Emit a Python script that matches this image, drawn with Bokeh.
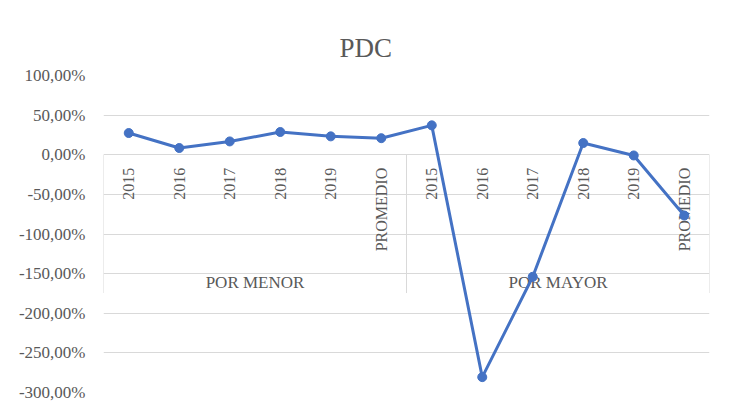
from bokeh.plotting import figure
from bokeh.models import (ColumnDataSource, Range1d, FixedTicker, CustomJSTickFormatter)
from bokeh.core.properties import value
from bokeh.embed import file_html
from bokeh.resources import INLINE

title_text = "PDC"
groups = ["POR MENOR", "POR MAYOR"]
categories = ["2015", "2016", "2017", "2018", "2019", "PROMEDIO"]
por_menor = [27.4, 8.5, 16.8, 28.7, 23.2, 20.9]
por_mayor = [37.1, -280.6, -154.0, 14.8, -0.9, -76.7]
y_ticks = [-300, -250, -200, -150, -100, -50, 0, 50, 100]

FONT = "Liberation Serif"
TXT = "#595959"
GRID = "#d9d9d9"
BLUE = "#4472C4"

values = por_menor + por_mayor
labels = categories + categories
xs = [i + 0.5 for i in range(len(values))]
n = len(categories)

p = figure(width=722, height=404, output_backend="svg", toolbar_location=None,
           x_range=Range1d(0, len(values)), y_range=Range1d(min(y_ticks), max(y_ticks)),
           min_border_left=103, min_border_right=13, min_border_top=75, min_border_bottom=12,
           title=title_text)
p.frame_width = 606
p.frame_height = 317

p.title.align = "left"
p.title.text_font = FONT
p.title.text_font_size = "27px"
p.title.text_font_style = "normal"
p.title.text_color = TXT
p.title.offset = 236
p.title.standoff = 25

p.outline_line_color = None
p.xaxis.visible = False
p.xgrid.visible = False
p.ygrid.grid_line_color = GRID
p.ygrid.grid_line_width = 1

ax = p.yaxis[0]
ax.ticker = FixedTicker(ticks=y_ticks)
ax.formatter = CustomJSTickFormatter(code="return tick.toFixed(2).replace('.', ',') + '%';")
ax.axis_line_color = None
ax.major_tick_line_color = None
ax.minor_tick_line_color = None
ax.major_tick_out = 0
ax.major_label_standoff = 18
ax.major_label_text_font = FONT
ax.major_label_text_font_size = "17px"
ax.major_label_text_color = TXT

# category axis at y = 0
bounds = [0, n, 2 * n]
p.segment(x0=bounds, x1=bounds, y0=[0] * 3, y1=[-174.5] * 3, line_color=GRID, line_width=1)

src = ColumnDataSource(dict(x=xs, y=values, lab=labels, zero=[0] * len(xs)))
p.text(x="x", y="zero", text="lab", source=src, angle=1.5708,
       text_align="right", text_baseline="middle", y_offset=13,
       text_font=value(FONT), text_font_size="16px", text_color=TXT)

gsrc = ColumnDataSource(dict(x=[n / 2, n + n / 2], y=[0, 0], g=groups))
p.text(x="x", y="y", text="g", source=gsrc, text_align="center", text_baseline="middle",
       y_offset=128, text_font=value(FONT), text_font_size="17px", text_color=TXT)

p.line(x="x", y="y", source=src, line_color=BLUE, line_width=3)
p.scatter(x="x", y="y", source=src, size=9, fill_color=BLUE, line_color=BLUE)

open("out.html", "w").write(file_html(p, INLINE))
